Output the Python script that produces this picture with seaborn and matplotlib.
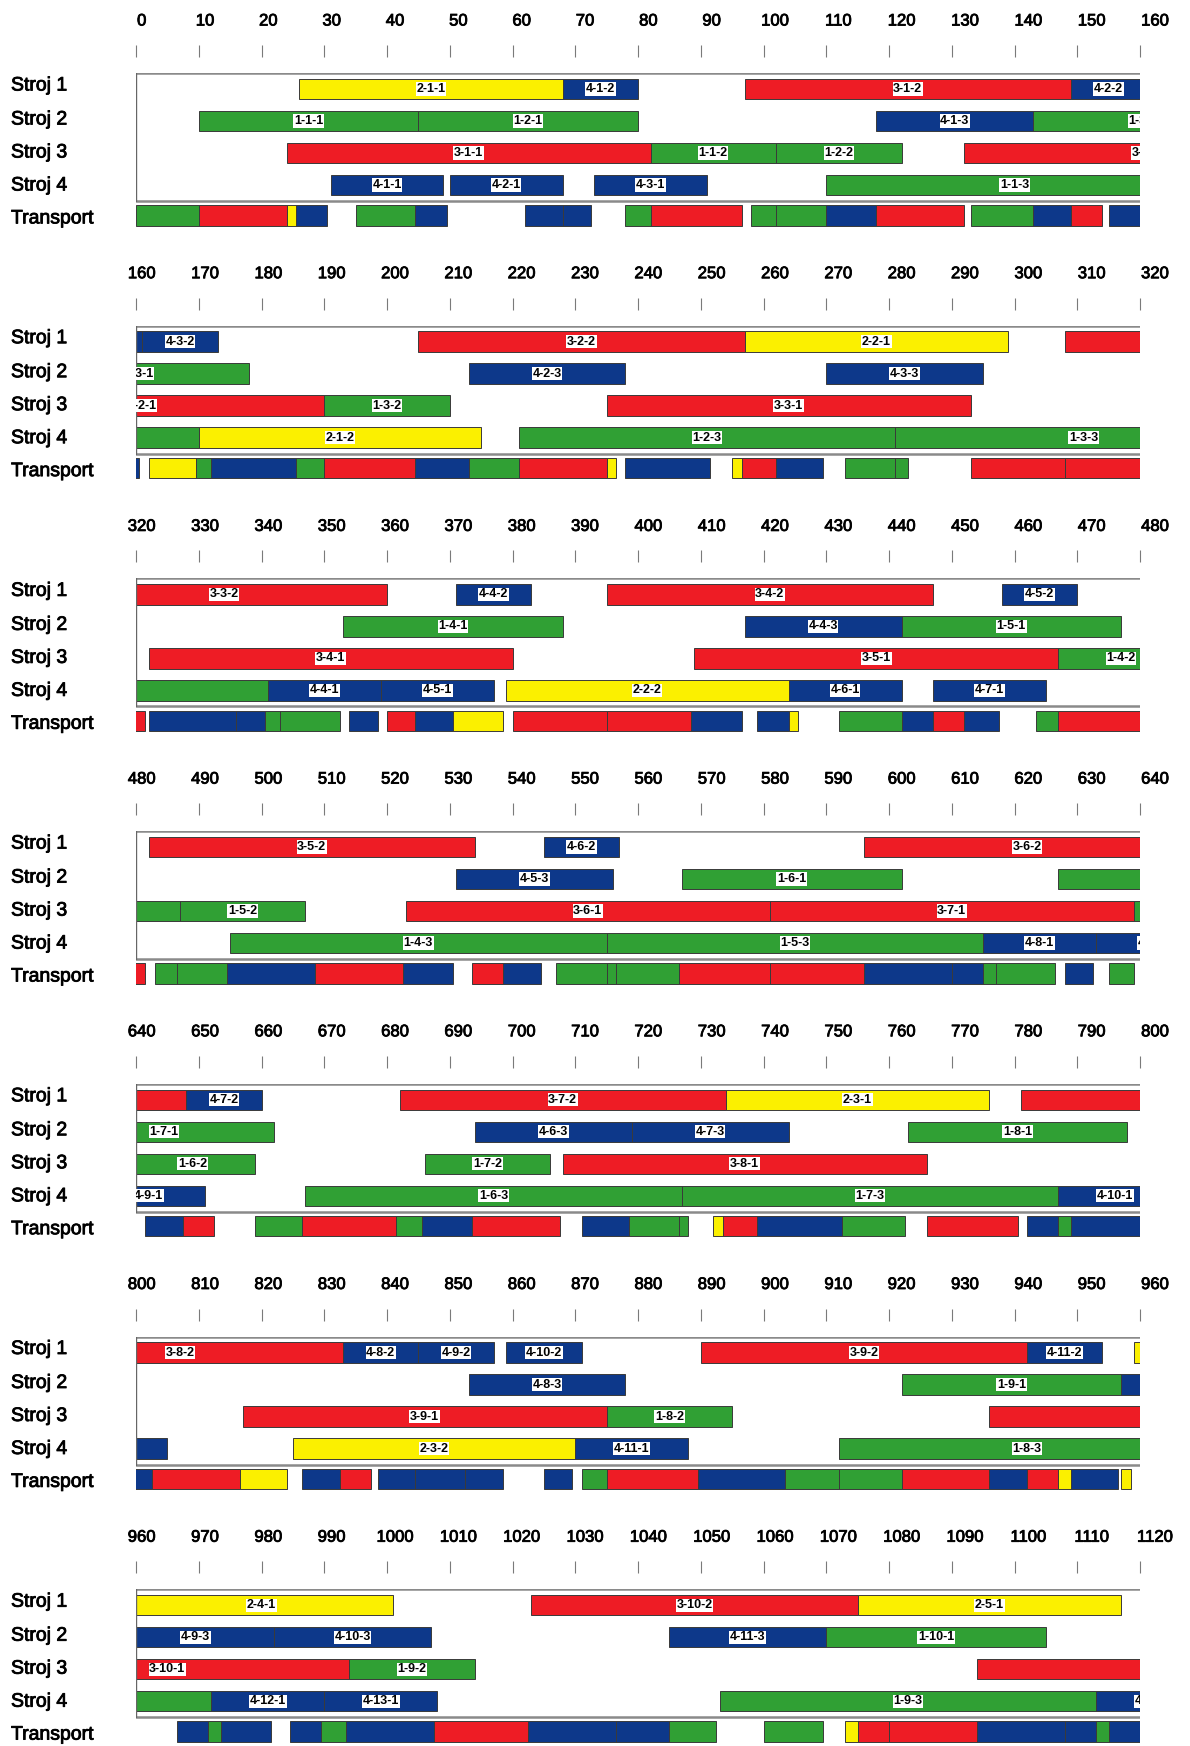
import pandas as pd
import matplotlib
matplotlib.use("Agg")
import matplotlib.pyplot as plt
import matplotlib.transforms as mtransforms
import matplotlib.patheffects as pe
import seaborn as sns

# rozvrh (Gantt) - 4 stroje + transport, cas 0..1120 po 160
rows = ["Stroj 1", "Stroj 2", "Stroj 3", "Stroj 4", "Transport"]

# (operace, start, konec)
stroj1 = [
    ("2-1-1", 26, 68), ("4-1-2", 68, 80), ("3-1-2", 97, 149), ("4-2-2", 149, 161),
    ("4-3-2", 161, 173), ("3-2-2", 205, 257), ("2-2-1", 257, 299), ("3-3-2", 308, 360),
    ("4-4-2", 371, 383), ("3-4-2", 395, 447), ("4-5-2", 458, 470), ("3-5-2", 482, 534),
    ("4-6-2", 545, 557), ("3-6-2", 596, 648), ("4-7-2", 648, 660), ("3-7-2", 682, 734),
    ("2-3-1", 734, 776), ("3-8-2", 781, 833), ("4-8-2", 833, 845), ("4-9-2", 845, 857),
    ("4-10-2", 859, 871), ("3-9-2", 890, 942), ("4-11-2", 942, 954), ("2-4-1", 959, 1001),
    ("3-10-2", 1023, 1075), ("2-5-1", 1075, 1117),
]
stroj2 = [
    ("1-1-1", 10, 45), ("1-2-1", 45, 80), ("4-1-3", 118, 143), ("1-3-1", 143, 178),
    ("4-2-3", 213, 238), ("4-3-3", 270, 295), ("1-4-1", 353, 388), ("4-4-3", 417, 442),
    ("1-5-1", 442, 477), ("4-5-3", 531, 556), ("1-6-1", 567, 602), ("1-7-1", 627, 662),
    ("4-6-3", 694, 719), ("4-7-3", 719, 744), ("1-8-1", 763, 798), ("4-8-3", 853, 878),
    ("1-9-1", 922, 957), ("4-9-3", 957, 982), ("4-10-3", 982, 1007), ("4-11-3", 1045, 1070),
    ("1-10-1", 1070, 1105),
]
stroj3 = [
    ("3-1-1", 24, 82), ("1-1-2", 82, 102), ("1-2-2", 102, 122), ("3-2-1", 132, 190),
    ("1-3-2", 190, 210), ("3-3-1", 235, 293), ("3-4-1", 322, 380), ("3-5-1", 409, 467),
    ("1-4-2", 467, 487), ("1-5-2", 487, 507), ("3-6-1", 523, 581), ("3-7-1", 581, 639),
    ("1-6-2", 639, 659), ("1-7-2", 686, 706), ("3-8-1", 708, 766), ("3-9-1", 817, 875),
    ("1-8-2", 875, 895), ("3-10-1", 936, 994), ("1-9-2", 994, 1014), ("3-11-1", 1094, 1152),
]
stroj4 = [
    ("4-1-1", 31, 49), ("4-2-1", 50, 68), ("4-3-1", 73, 91), ("1-1-3", 110, 170),
    ("2-1-2", 170, 215), ("1-2-3", 221, 281), ("1-3-3", 281, 341), ("4-4-1", 341, 359),
    ("4-5-1", 359, 377), ("2-2-2", 379, 424), ("4-6-1", 424, 442), ("4-7-1", 447, 465),
    ("1-4-3", 495, 555), ("1-5-3", 555, 615), ("4-8-1", 615, 633), ("4-9-1", 633, 651),
    ("1-6-3", 667, 727), ("1-7-3", 727, 787), ("4-10-1", 787, 805), ("2-3-2", 825, 870),
    ("4-11-1", 870, 888), ("1-8-3", 912, 972), ("4-12-1", 972, 990), ("4-13-1", 990, 1008),
    ("1-9-3", 1053, 1113), ("4-14-1", 1113, 1131),
]

# transport: (typ zakazky, start, konec)
transport = [
    (1, 0, 10), (3, 10, 24), (2, 24, 25.5), (4, 25.5, 30.5), (1, 35, 44.5), (4, 44.5, 49.5),
    (4, 62, 68), (4, 68, 72.5), (1, 78, 82), (3, 82, 96.5), (1, 98, 102), (1, 102, 110),
    (4, 110, 118), (3, 118, 132), (1, 133, 143), (4, 143, 149), (3, 149, 154), (4, 155, 160.5),
    (2, 162, 169.5), (1, 169.5, 172), (4, 172, 185.5), (1, 185.5, 190), (3, 190, 204.5),
    (4, 204.5, 213), (1, 213, 221), (3, 221, 235), (2, 235, 236.5), (4, 238, 251.5),
    (2, 255, 256.5), (3, 256.5, 262), (4, 262, 269.5), (1, 273, 281), (1, 281, 283),
    (3, 293, 308), (3, 308, 321.5),
    (4, 322, 336), (4, 336, 340.5), (1, 340.5, 343), (1, 343, 352.5), (4, 354, 358.5),
    (3, 360, 364.5), (4, 364.5, 370.5), (2, 370.5, 378.5), (3, 380, 395), (3, 395, 408.5),
    (4, 408.5, 416.5), (4, 419, 424), (2, 424, 425.5), (1, 432, 442), (4, 442, 447),
    (3, 447, 452), (4, 452, 457.5), (1, 463.5, 467), (3, 467, 481.5),
    (1, 483, 486.5), (1, 486.5, 494.5), (4, 494.5, 508.5), (3, 508.5, 522.5), (4, 522.5, 530.5),
    (3, 533.5, 538.5), (4, 538.5, 544.5), (1, 547, 555), (1, 555, 556.5), (1, 556.5, 566.5),
    (3, 566.5, 581), (3, 581, 596), (4, 596, 610), (4, 610, 615), (1, 615, 617), (1, 617, 626.5),
    (4, 628, 632.5), (1, 635, 639),
    (4, 641.5, 647.5), (3, 647.5, 652.5), (1, 659, 666.5), (3, 666.5, 681.5), (1, 681.5, 685.5),
    (4, 685.5, 693.5), (3, 693.5, 707.5), (4, 711, 718.5), (1, 718.5, 726.5), (1, 726.5, 728),
    (2, 732, 733.5), (3, 733.5, 739), (4, 739, 752.5), (1, 752.5, 762.5), (3, 766, 780.5),
    (4, 782, 787), (1, 787, 789), (4, 789, 802.5),
    (3, 802.5, 816.5), (2, 816.5, 824), (4, 826.5, 832.5), (3, 832.5, 837.5), (4, 838.5, 844.5),
    (4, 844.5, 852.5), (4, 852.5, 858.5), (4, 865, 869.5), (1, 871, 875), (3, 875, 889.5),
    (4, 889.5, 903.5), (1, 903.5, 912), (1, 912, 922), (3, 922, 936), (4, 936, 942),
    (3, 942, 947), (2, 947, 949), (4, 949, 956.5), (2, 957, 958.5),
    (4, 966.5, 971.5), (1, 971.5, 973.5), (4, 973.5, 981.5), (4, 984.5, 989.5), (1, 989.5, 993.5),
    (4, 993.5, 1007.5), (3, 1007.5, 1022.5), (4, 1022.5, 1036.5), (4, 1036.5, 1045),
    (1, 1045, 1052.5), (1, 1060, 1069.5), (2, 1073, 1075), (3, 1075, 1080), (3, 1080, 1094),
    (4, 1094, 1108), (4, 1108, 1113), (1, 1113, 1115), (4, 1115, 1125),
]

job_colors = {1: "#30a034", 2: "#fbf000", 3: "#ee1c25", 4: "#0d388a"}
panel_len = 160
n_panels = 7

# tabulka vsech useku
ops = pd.DataFrame(
    [(r, lab, s, e) for r, lst in zip(rows[:4], [stroj1, stroj2, stroj3, stroj4]) for lab, s, e in lst],
    columns=["row", "label", "start", "end"])
ops["job"] = ops["label"].str.split("-").str[0].astype(int)
tr = pd.DataFrame(transport, columns=["job", "start", "end"])
tr["row"] = "Transport"
tr["label"] = ""
df = pd.concat([ops, tr], ignore_index=True)
df["mid"] = (df["start"] + df["end"]) / 2

ypos = {"Stroj 1": 0, "Stroj 2": 1, "Stroj 3": 2, "Stroj 4": 3, "Transport": 3.95}
label_shift = {"Stroj 1": 5, "Stroj 2": 3, "Stroj 3": 2, "Stroj 4": 1, "Transport": -1.5}  # px nahoru
df["y"] = df["row"].map(ypos)

sns.set_theme(style="white")
plt.rcParams["font.family"] = ["Liberation Sans", "DejaVu Sans"]
heavy = [pe.withStroke(linewidth=0.6, foreground="black")]

W, H = 1190, 1746
fig = plt.figure(figsize=(W / 100, H / 100), dpi=100)

step = 252.7          # vyska jednoho pasu v px
ax_left, ax_right = 136, 1140
ax_top, ax_bot = 73, 228
row_px = 32

for k in range(n_panels):
    x0 = k * panel_len
    x1 = x0 + panel_len
    P = k * step
    ax = fig.add_axes([ax_left / W, 1 - (P + ax_bot) / H,
                       (ax_right - ax_left) / W, (ax_bot - ax_top) / H])
    ax.set_xlim(x0, x1)
    ax.set_ylim(-0.5 + (ax_bot - ax_top) / row_px, -0.5)
    for sp in ax.spines.values():
        sp.set_visible(False)

    sub = df[(df["end"] > x0) & (df["start"] < x1)]
    ax.barh(sub["y"], sub["end"] - sub["start"], left=sub["start"], height=0.64,
            color=sub["job"].map(job_colors), edgecolor="#3a3a3a", linewidth=0.7)
    # popisky jen kdyz jsou aspon castecne videt
    lab = sub[(sub["label"] != "") & (sub["mid"] > x0 - 2.5) & (sub["mid"] < x1 + 2.5)]
    for _, r in lab.iterrows():
        ax.text(r["mid"], r["y"], r["label"], ha="center", va="center",
                fontsize=9, fontweight="bold", color="black", clip_on=True,
                bbox=dict(boxstyle="square,pad=0.05", fc="white", ec="none"))

    # ramecek stroju
    ax.axhline(-0.5, color="#8a8a8a", lw=1.8)
    ax.axhline(3.5, color="#8a8a8a", lw=1.8)
    ax.plot([x0, x0], [-0.5, 3.5], color="#666666", lw=1)

    # casova osa nahore
    ticks = list(range(x0, x1 + 1, 10))
    ax.set_xticks(ticks)
    ax.xaxis.set_ticks_position("top")
    ax.spines["top"].set_position(("outward", 11.5))
    ax.tick_params(axis="x", which="major", top=True, bottom=False, labeltop=False,
                   labelbottom=False, direction="out", length=8.6, width=0.8, color="#7a7a7a")
    for i, t in enumerate(ticks):
        off = mtransforms.ScaledTranslation((5.7 + 0.58 * i) / 100, 0, fig.dpi_scale_trans)
        ax.text(t, 1 + (ax_top - 21) / (ax_bot - ax_top), str(t), ha="center", va="center",
                fontsize=12, color="black", clip_on=False, path_effects=heavy,
                transform=ax.get_xaxis_transform() + off)

    # nazvy radku vlevo
    ax.set_yticks([])
    for r in rows:
        off = mtransforms.ScaledTranslation(0, label_shift[r] / 100, fig.dpi_scale_trans)
        ax.text(-125 / (ax_right - ax_left), ypos[r], r, ha="left", va="center_baseline",
                fontsize=14, color="black", clip_on=False, path_effects=heavy,
                transform=ax.get_yaxis_transform() + off)

fig.savefig("out.png", dpi=100)
